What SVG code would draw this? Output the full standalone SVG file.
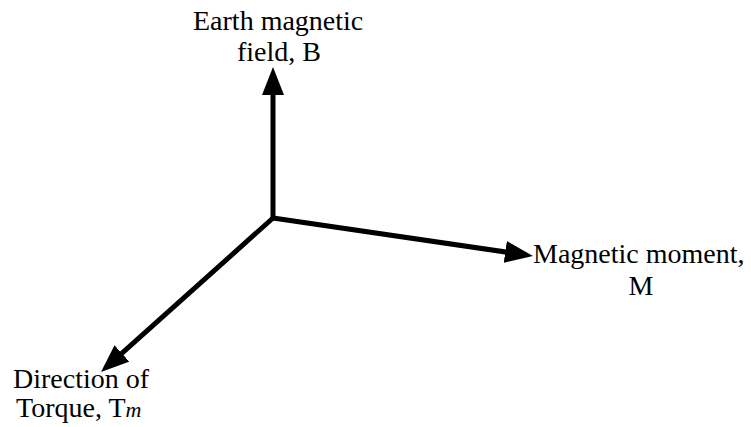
<svg xmlns="http://www.w3.org/2000/svg" width="751" height="427" viewBox="0 0 751 427">
<style>
text{font-family:"Liberation Serif","Times New Roman",serif;font-size:28px;fill:#000}
.ax{stroke:#000;stroke-width:5;fill:none;stroke-linecap:round;stroke-linejoin:round}
</style>
<defs>
<marker id="ah" markerWidth="28" markerHeight="22" refX="8" refY="11" orient="auto" markerUnits="userSpaceOnUse" viewBox="0 0 28 22">
<path d="M0,0 L28,11 L0,22 z" fill="#000"/>
</marker>
</defs>
<rect width="751" height="427" fill="#fff"/>
<g id="connectors">
<line class="ax" x1="273" y1="218" x2="273" y2="87" marker-end="url(#ah)"/>
<line class="ax" x1="273" y1="218" x2="513.2" y2="253.1" marker-end="url(#ah)"/>
<line class="ax" x1="273" y1="218" x2="115.9" y2="358.7" marker-end="url(#ah)"/>
</g>
<g id="node-B">
<text x="193" y="30">Earth magnetic</text>
<text x="237" y="61">field, B</text>
</g>
<g id="node-M">
<text x="533" y="263">Magnetic moment,</text>
<text x="641" y="295" text-anchor="middle">M</text>
</g>
<g id="node-T">
<text x="13" y="388">Direction of</text>
<text x="16" y="417">Torque, T<tspan font-style="italic" font-size="22">m</tspan></text>
</g>
</svg>
